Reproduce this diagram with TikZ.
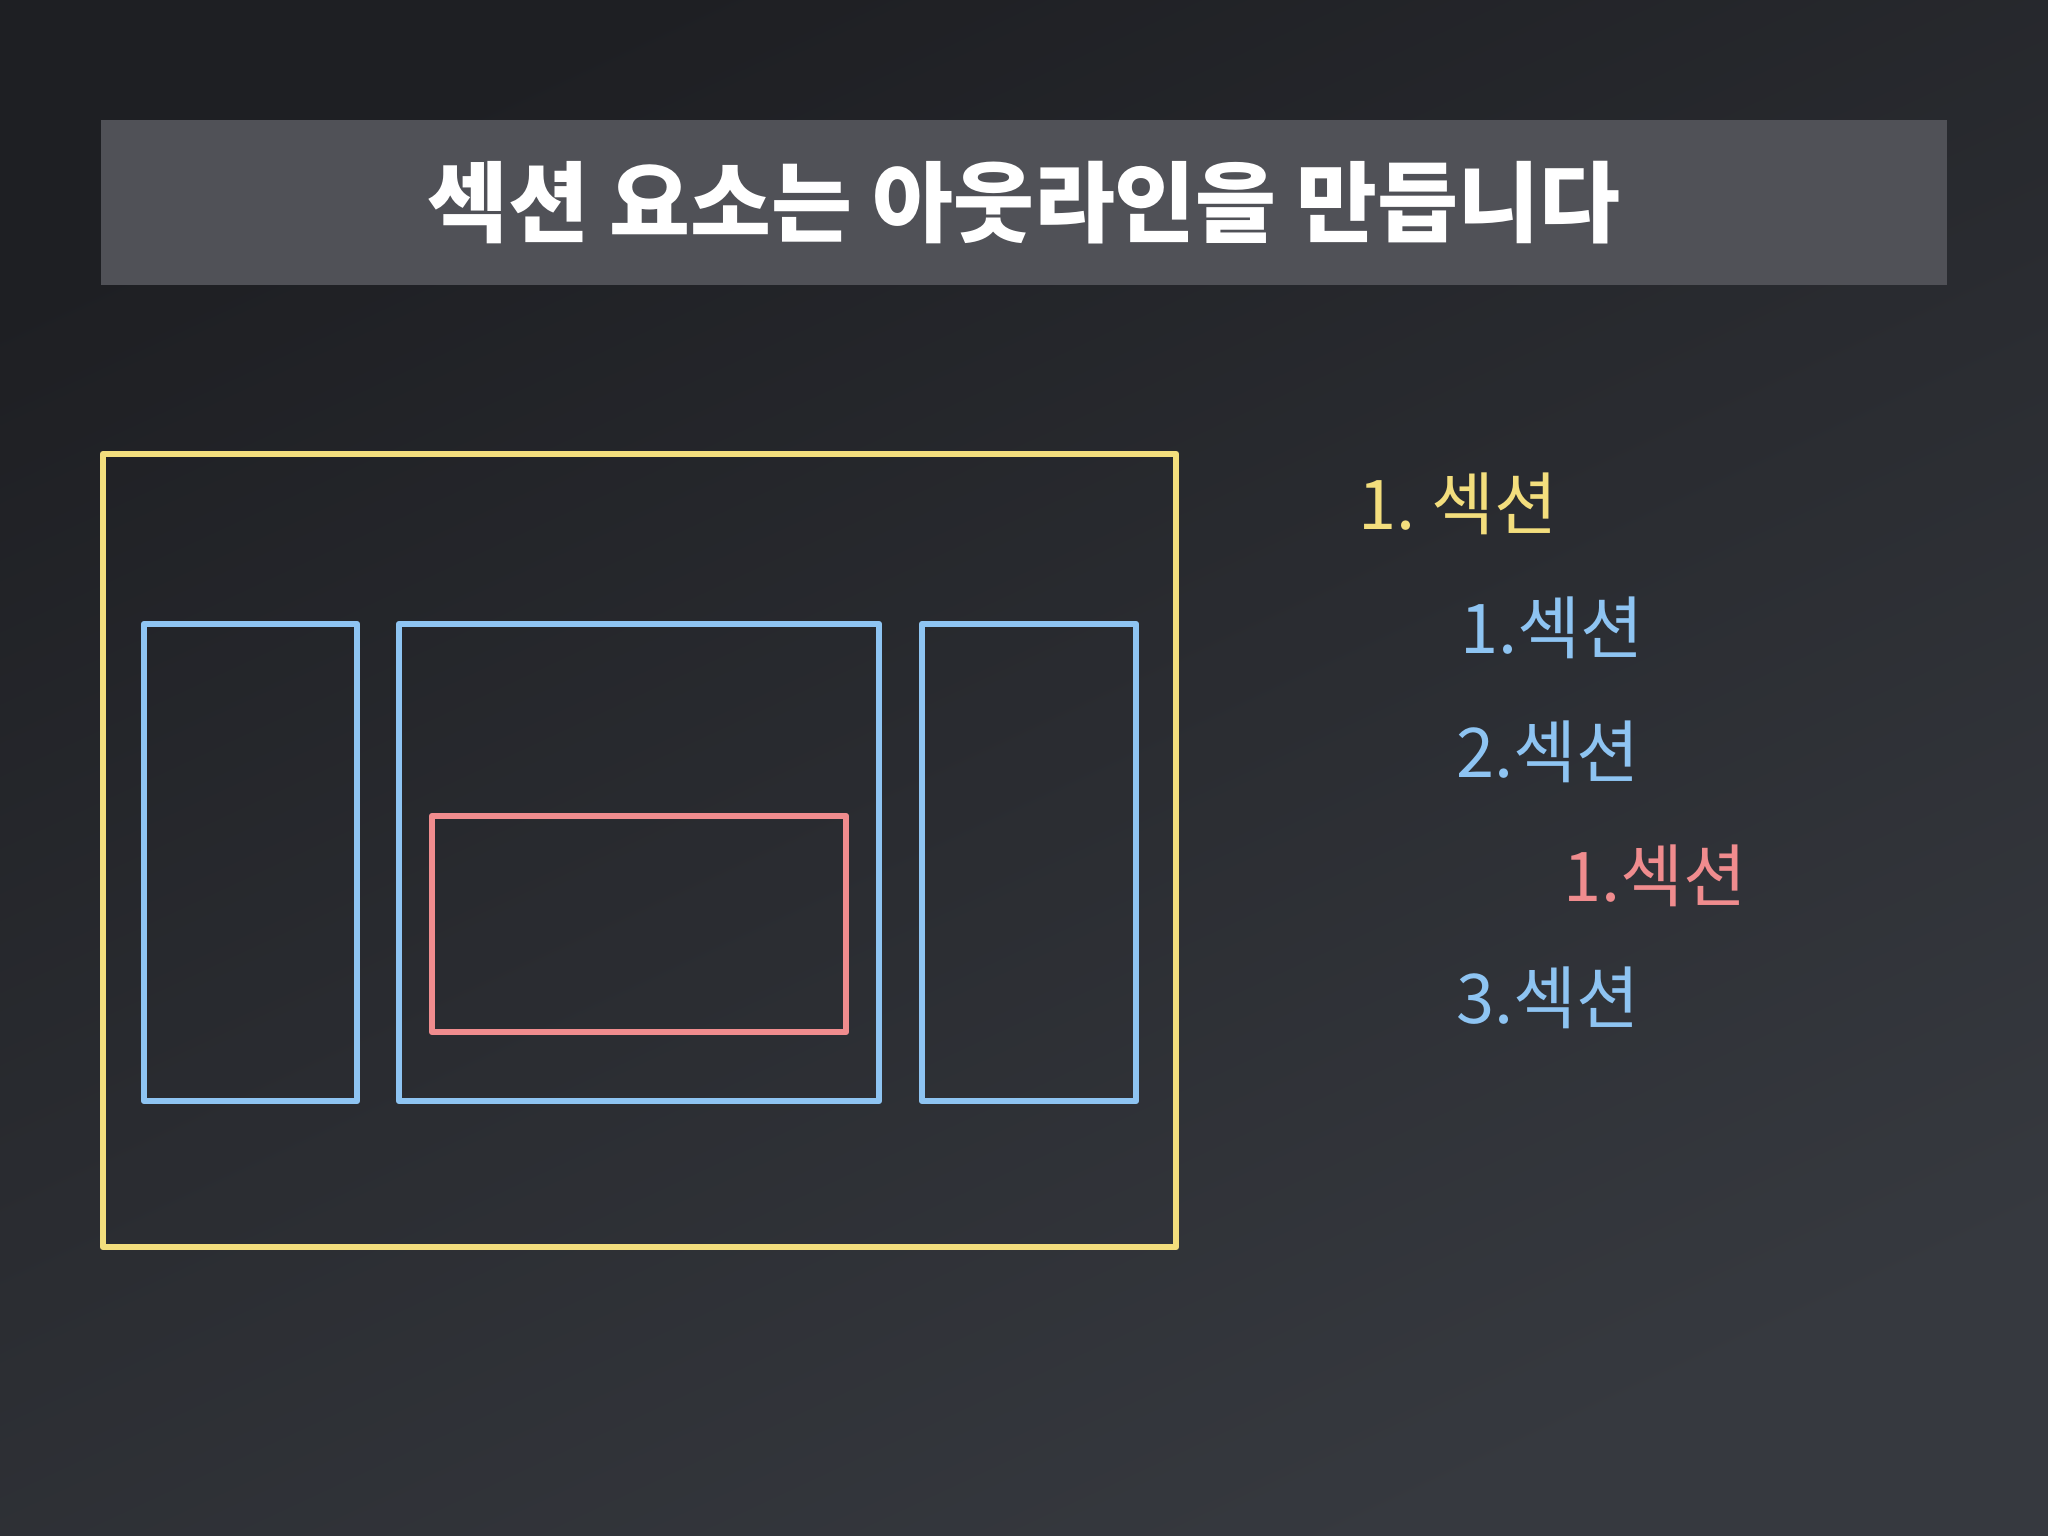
\documentclass[tikz,border=0pt]{standalone}
\usepackage{fontspec}
\newfontfamily\kofont{Noto Sans CJK KR}
\definecolor{bgtop}{RGB}{30,31,35}
\definecolor{bgbot}{RGB}{54,57,63}
\definecolor{barcolor}{RGB}{80,81,87}
\definecolor{yellowline}{RGB}{243,222,125}
\definecolor{blueline}{RGB}{142,196,242}
\definecolor{redline}{RGB}{240,140,142}
\usetikzlibrary{positioning}
\tikzset{
	titlebar/.style={
		rectangle,
		fill=barcolor,
		minimum width=18.44cm,
		minimum height=1.65cm,
		inner sep=0pt,
		text=white,
		font=\kofont\bfseries\fontsize{25}{28}\selectfont
	},
	outerbox/.style={
		rectangle,
		draw=yellowline,
		line width=0.06cm,
		line join=round,
		inner sep=0pt,
		outer sep=0pt
	},
	sectbox/.style={
		outerbox,
		draw=blueline
	},
	innerbox/.style={
		outerbox,
		draw=redline
	},
	item/.style={
		anchor=base west,
		inner sep=0pt,
		font=\kofont\fontsize{19.5}{23}\selectfont
	},
}

\begin{document}
\begin{tikzpicture}[x=0.01cm,y=-0.01cm]
\useasboundingbox (0,0) rectangle (2048,1536);
\shade[top color=bgtop,bottom color=bgbot,shading angle=25] (0,0) rectangle (2048,1536);

\node [titlebar] (title) at (1024,202.5) {섹션 요소는 아웃라인을 만듭니다};

% outline boxes
\node [outerbox,minimum width=10.73cm,minimum height=7.93cm] (s1) at (639.5,850.5) {};
\node [sectbox,minimum width=2.13cm,minimum height=4.77cm] (s11) at (250.5,862.5) {};
\node [sectbox,minimum width=4.80cm,minimum height=4.77cm] (s12) at (639,862.5) {};
\node [sectbox,minimum width=2.14cm,minimum height=4.77cm] (s13) at (1029,862.5) {};
\node [innerbox,minimum width=4.14cm,minimum height=2.16cm] (s121) at (639,924) {};

% outline list
\node [item,text=yellowline] (l1) at (1358,529) {1.~섹션};
\node [item,text=blueline] (l11) at (1460,653) {1.섹션};
\node [item,text=blueline] (l12) at (1456,777) {2.섹션};
\node [item,text=redline] (l121) at (1563,901) {1.섹션};
\node [item,text=blueline] (l13) at (1456,1023) {3.섹션};
\end{tikzpicture}
\end{document}
